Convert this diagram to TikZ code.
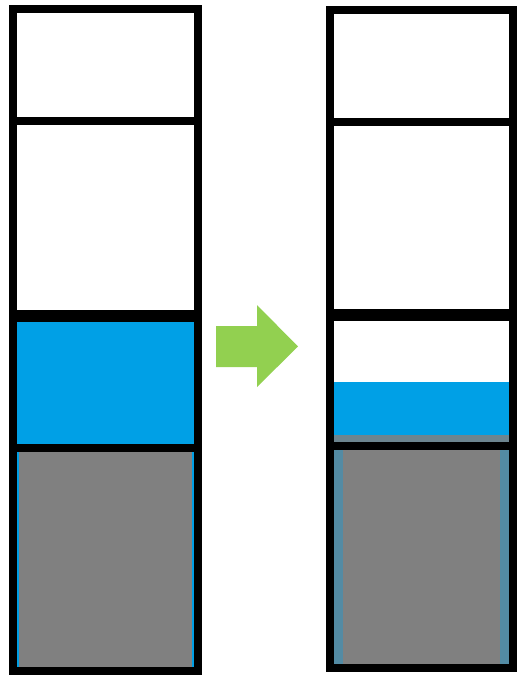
\documentclass[tikz,border=0pt]{standalone}
\usetikzlibrary{backgrounds}
\definecolor{wasser}{RGB}{0,160,230}
\definecolor{boden}{RGB}{128,128,128}
\definecolor{pfeilgruen}{RGB}{146,208,80}
\begin{document}
\begin{tikzpicture}[
      x=1pt, y=-1pt,
      rahmen/.style={draw=black, line width=8pt},
      trenner/.style={draw=black, line width=8pt},
      dicktrenner/.style={draw=black, line width=12pt},
      pfeil/.style={fill=pfeilgruen, draw=none}
    ]
    \useasboundingbox[fill=white] (0,0) rectangle (517,681);

    % linke Saeule
    \fill[wasser] (13,315) rectangle (197.5,670.5);
    \fill[boden] (19,448) rectangle (191.5,670.5);
    \draw[rahmen] (13,9) rectangle (197.5,670.5);
    \draw[trenner] (13,121) -- (197.5,121);
    \draw[dicktrenner] (13,315.5) -- (197.5,315.5);
    \draw[trenner] (13,448) -- (197.5,448);

    % Pfeil
    \fill[pfeil] (216,326) -- (257,326) -- (257,305) -- (298,346.5)
      -- (257,387) -- (257,367) -- (216,367) -- cycle;

    % rechte Saeule
    \fill[wasser] (330,382) rectangle (512.5,668);
    \fill[boden!85!wasser] (330,435) rectangle (512.5,446);
    \fill[boden!65!wasser] (330,446) rectangle (512.5,668);
    \fill[boden] (343,446) rectangle (500,668);
    \draw[rahmen] (330,10) rectangle (512.5,668);
    \draw[trenner] (330,122) -- (512.5,122);
    \draw[dicktrenner] (330,315) -- (512.5,315);
    \draw[trenner] (330,446) -- (512.5,446);
  \end{tikzpicture}
\end{document}
